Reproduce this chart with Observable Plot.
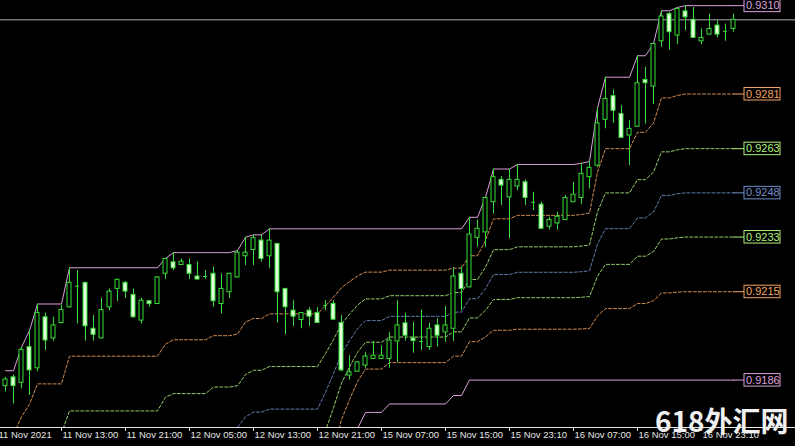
<!DOCTYPE html>
<html>
<head>
<meta charset="utf-8">
<script src="https://cdn.jsdelivr.net/npm/d3@7"></script>
<script src="https://cdn.jsdelivr.net/npm/@observablehq/plot@0.6"></script>
<style>
  html, body { margin: 0; padding: 0; background: #000; }
  #chart { width: 795px; height: 446px; overflow: hidden; }
</style>
</head>
<body>
<div id="chart"></div>
<script>
// Hourly candles, 11–16 Nov 2021
const open = [
  0.91840, 0.91869, 0.91851, 0.91969, 0.91899, 0.92068, 0.91998, 0.92049, 0.92101, 0.92171,
  0.92182, 0.92030, 0.91998, 0.92101, 0.92162, 0.92182, 0.92142, 0.92057, 0.92121, 0.92112,
  0.92212, 0.92250, 0.92241, 0.92241, 0.92203, 0.92203, 0.92212, 0.92112, 0.92151, 0.92200,
  0.92270, 0.92291, 0.92322, 0.92270, 0.92311, 0.92162, 0.92090, 0.92059, 0.92090, 0.92082,
  0.92107, 0.92112, 0.92049, 0.91875, 0.91888, 0.91908, 0.91930, 0.91930, 0.91930, 0.91988,
  0.92048, 0.91998, 0.91988, 0.91969, 0.92041, 0.92018, 0.92030, 0.92212, 0.92167, 0.92331,
  0.92349, 0.92449, 0.92523, 0.92465, 0.92501, 0.92515, 0.92449, 0.92441, 0.92368, 0.92379,
  0.92390, 0.92449, 0.92463, 0.92532, 0.92570, 0.92722, 0.92800, 0.92741, 0.92670, 0.92699,
  0.92854, 0.92832, 0.92982, 0.93072, 0.93001, 0.93081, 0.93053, 0.92982, 0.93004, 0.93034,
  0.93015, 0.93023
];
const high = [
  0.91869, 0.91877, 0.91969, 0.92024, 0.92112, 0.92082, 0.92068, 0.92108, 0.92232, 0.92223,
  0.92184, 0.92074, 0.92131, 0.92162, 0.92195, 0.92186, 0.92162, 0.92131, 0.92123, 0.92203,
  0.92263, 0.92282, 0.92261, 0.92261, 0.92252, 0.92223, 0.92234, 0.92212, 0.92214, 0.92289,
  0.92333, 0.92341, 0.92341, 0.92361, 0.92312, 0.92163, 0.92123, 0.92083, 0.92100, 0.92100,
  0.92123, 0.92123, 0.92074, 0.91941, 0.91921, 0.91952, 0.91988, 0.91974, 0.92018, 0.92123,
  0.92081, 0.92051, 0.92092, 0.92048, 0.92063, 0.92103, 0.92232, 0.92234, 0.92399, 0.92390,
  0.92465, 0.92559, 0.92534, 0.92558, 0.92574, 0.92523, 0.92482, 0.92449, 0.92399, 0.92416,
  0.92471, 0.92515, 0.92578, 0.92584, 0.92761, 0.92863, 0.92821, 0.92769, 0.92719, 0.92934,
  0.92896, 0.92974, 0.93083, 0.93078, 0.93094, 0.93100, 0.93094, 0.93023, 0.93072, 0.93050,
  0.93039, 0.93072
];
const low = [
  0.91820, 0.91781, 0.91831, 0.91809, 0.91888, 0.91958, 0.91989, 0.92046, 0.92098, 0.92046,
  0.91989, 0.91989, 0.91996, 0.92090, 0.92120, 0.92131, 0.92065, 0.92046, 0.92101, 0.92110,
  0.92193, 0.92223, 0.92240, 0.92193, 0.92191, 0.92193, 0.92101, 0.92079, 0.92131, 0.92198,
  0.92239, 0.92239, 0.92250, 0.92230, 0.92049, 0.92010, 0.92038, 0.92030, 0.92038, 0.92048,
  0.92090, 0.92058, 0.91888, 0.91860, 0.91886, 0.91899, 0.91929, 0.91928, 0.91899, 0.91919,
  0.91989, 0.91949, 0.91958, 0.91958, 0.91969, 0.91985, 0.91988, 0.92090, 0.92166, 0.92300,
  0.92300, 0.92410, 0.92438, 0.92328, 0.92487, 0.92438, 0.92421, 0.92360, 0.92357, 0.92357,
  0.92388, 0.92448, 0.92441, 0.92493, 0.92563, 0.92692, 0.92710, 0.92661, 0.92570, 0.92698,
  0.92708, 0.92772, 0.92962, 0.92953, 0.92971, 0.93017, 0.92992, 0.92971, 0.93002, 0.92993,
  0.92982, 0.93012
];
const close = [
  0.91862, 0.91840, 0.91960, 0.91892, 0.92082, 0.91991, 0.92041, 0.92092, 0.92182, 0.92171,
  0.92038, 0.92010, 0.92092, 0.92153, 0.92192, 0.92153, 0.92068, 0.92123, 0.92112, 0.92200,
  0.92261, 0.92230, 0.92252, 0.92212, 0.92193, 0.92203, 0.92121, 0.92162, 0.92212, 0.92282,
  0.92282, 0.92330, 0.92261, 0.92322, 0.92151, 0.92101, 0.92070, 0.92082, 0.92070, 0.92049,
  0.92107, 0.92060, 0.91892, 0.91886, 0.91919, 0.91938, 0.91941, 0.91941, 0.91991, 0.92041,
  0.92007, 0.91989, 0.91988, 0.92030, 0.92007, 0.92041, 0.92203, 0.92162, 0.92342, 0.92361,
  0.92463, 0.92532, 0.92504, 0.92523, 0.92523, 0.92463, 0.92449, 0.92361, 0.92390, 0.92401,
  0.92463, 0.92474, 0.92543, 0.92563, 0.92710, 0.92791, 0.92752, 0.92662, 0.92692, 0.92843,
  0.92843, 0.92973, 0.93064, 0.93012, 0.93089, 0.93061, 0.92993, 0.92993, 0.93023, 0.93004,
  0.93015, 0.93053
];

// Channel high / low of the rolling window, per bar
const channelTop = [
  0.91891, 0.91891, 0.91969, 0.92024, 0.92112, 0.92112, 0.92112, 0.92112, 0.92232, 0.92232,
  0.92232, 0.92232, 0.92232, 0.92232, 0.92232, 0.92232, 0.92232, 0.92232, 0.92232, 0.92232,
  0.92263, 0.92282, 0.92282, 0.92282, 0.92282, 0.92282, 0.92282, 0.92282, 0.92282, 0.92289,
  0.92333, 0.92341, 0.92341, 0.92361, 0.92361, 0.92361, 0.92361, 0.92361, 0.92361, 0.92361,
  0.92361, 0.92361, 0.92361, 0.92361, 0.92361, 0.92361, 0.92361, 0.92361, 0.92361, 0.92361,
  0.92361, 0.92361, 0.92361, 0.92361, 0.92361, 0.92361, 0.92361, 0.92361, 0.92399, 0.92399,
  0.92465, 0.92559, 0.92559, 0.92559, 0.92574, 0.92574, 0.92574, 0.92574, 0.92574, 0.92574,
  0.92574, 0.92574, 0.92578, 0.92584, 0.92761, 0.92863, 0.92863, 0.92863, 0.92863, 0.92934,
  0.92934, 0.92974, 0.93083, 0.93083, 0.93094, 0.93100, 0.93100, 0.93100, 0.93100, 0.93100,
  0.93100, 0.93100
];
const channelBottom = [
  0.90991, 0.90991, 0.90991, 0.90991, 0.90991, 0.90991, 0.90991, 0.90991, 0.90991, 0.90991,
  0.90991, 0.90991, 0.90991, 0.90991, 0.90991, 0.90991, 0.90991, 0.90991, 0.90991, 0.90991,
  0.91060, 0.91060, 0.91060, 0.91060, 0.91060, 0.91060, 0.91117, 0.91117, 0.91117, 0.91117,
  0.91143, 0.91167, 0.91167, 0.91167, 0.91167, 0.91167, 0.91167, 0.91167, 0.91167, 0.91167,
  0.91279, 0.91402, 0.91534, 0.91620, 0.91699, 0.91753, 0.91753, 0.91753, 0.91781, 0.91781,
  0.91781, 0.91781, 0.91781, 0.91781, 0.91781, 0.91781, 0.91809, 0.91809, 0.91860, 0.91860,
  0.91860, 0.91860, 0.91860, 0.91860, 0.91860, 0.91860, 0.91860, 0.91860, 0.91860, 0.91860,
  0.91860, 0.91860, 0.91860, 0.91860, 0.91860, 0.91860, 0.91860, 0.91860, 0.91860, 0.91860,
  0.91860, 0.91860, 0.91860, 0.91860, 0.91860, 0.91860, 0.91860, 0.91860, 0.91860, 0.91860,
  0.91860, 0.91860
];

// Retracement ratios, measured down from the channel high
const fibRatios = [0.236, 0.382, 0.5, 0.618, 0.764];

// Time axis: bar index and its label
const tickIndex = [-1, 7, 15, 23, 31, 39, 47, 55, 63, 71, 79, 87];
const tickLabels = [
  "11 Nov 2021", "11 Nov 13:00", "11 Nov 21:00", "12 Nov 05:00", "12 Nov 13:00", "12 Nov 21:00",
  "15 Nov 07:00", "15 Nov 15:00", "15 Nov 23:10", "16 Nov 07:00", "16 Nov 15:00", "16 Nov 23:10"
];

const watermark = "618外汇网";

// Colours
const candleColor = "#36dc36";
const bearFill = "#e4ffdc";
const plum = "#dda0dd";
const orange = "#f4a460";
const lightGreen = "#adf27c";
const steel = "#7090cc";
const fibColors = [orange, lightGreen, steel, lightGreen, orange];

const bars = open.map((o, i) => ({
  i, open: o, high: high[i], low: low[i], close: close[i],
  top: channelTop[i], bottom: channelBottom[i]
}));
const last = bars.length - 1;
const lastBar = bars[last];

const bull = bars.filter(d => d.close > d.open);
const bear = bars.filter(d => d.close < d.open);
const doji = bars.filter(d => d.close === d.open);

const levelAt = (d, r) => d.top - r * (d.top - d.bottom);

// Levels at the latest bar, with their marker colours
const lastLevels = [
  {value: lastBar.top, color: plum},
  ...fibRatios.map((r, j) => ({value: levelAt(lastBar, r), color: fibColors[j]})),
  {value: lastBar.bottom, color: plum}
];

const ticks = tickIndex.map((k, j) => ({k, label: tickLabels[j]}));

const marks = [];

// bid line at the latest close
marks.push(Plot.ruleY([lastBar.close], {stroke: "#a8a8b2", strokeWidth: 1}));

// dotted retracement lines
fibRatios.forEach((r, j) => {
  marks.push(Plot.line(bars, {
    x: "i", y: d => levelAt(d, r),
    stroke: fibColors[j], strokeWidth: 1, strokeOpacity: 0.85,
    strokeDasharray: "3,2", clip: true
  }));
});

// channel high and low
marks.push(Plot.line(bars, {x: "i", y: "top", stroke: plum, strokeWidth: 1, clip: true}));
marks.push(Plot.line(bars, {x: "i", y: "bottom", stroke: plum, strokeWidth: 1, clip: true}));

// candles: wicks, then bodies
marks.push(Plot.ruleX(bars, {x: "i", y1: "low", y2: "high", stroke: candleColor, strokeWidth: 1}));
marks.push(Plot.rect(bull, {
  x1: d => d.i - 0.25, x2: d => d.i + 0.25, y1: "open", y2: "close",
  fill: "black", stroke: candleColor, strokeWidth: 1
}));
marks.push(Plot.rect(bear, {
  x1: d => d.i - 0.25, x2: d => d.i + 0.25, y1: "open", y2: "close",
  fill: bearFill, stroke: candleColor, strokeWidth: 1
}));
marks.push(Plot.ruleY(doji, {
  y: "open", x1: d => d.i - 0.25, x2: d => d.i + 0.25, stroke: candleColor, strokeWidth: 1
}));

// price markers on the right
lastLevels.forEach(l => {
  marks.push(Plot.ruleY([l], {
    y: "value", x1: () => last, x2: () => last, insetRight: -11,
    stroke: l.color, strokeWidth: 1
  }));
  marks.push(Plot.rect([l], {
    x1: () => last, x2: () => last, y1: "value", y2: "value",
    insetLeft: 11, insetRight: -47, insetTop: -6, insetBottom: -6.5,
    fill: "black", stroke: l.color, strokeWidth: 1
  }));
  marks.push(Plot.text([l], {
    x: () => last, y: "value", text: d => d.value.toFixed(4),
    dx: 12.5, textAnchor: "start", fill: l.color,
    fontSize: 11, fontFamily: "Liberation Sans, Arial, sans-serif"
  }));
});

// time labels
marks.push(Plot.text(ticks, {
  x: "k", text: "label", frameAnchor: "bottom", dy: 10, dx: 1,
  textAnchor: "start", fill: "#e6e6e6", fontSize: 9.5,
  fontFamily: "Liberation Sans, Arial, sans-serif"
}));

// site mark, drawn over the time labels
marks.push(Plot.text([watermark], {
  text: d => d, frameAnchor: "bottom-right", dx: -7, dy: 4,
  textAnchor: "end", fill: "#f0f0f0", fontSize: 28, fontWeight: "bold",
  fontFamily: "'Noto Sans CJK SC', sans-serif"
}));

const chart = Plot.plot({
  width: 795,
  height: 446,
  marginTop: 0,
  marginRight: 0,
  marginBottom: 19,
  marginLeft: 0,
  style: {background: "black", color: "#e6e6e6"},
  x: {
    domain: [-0.625, 98.75],
    ticks: tickIndex.filter(k => k >= 0),
    tickFormat: () => "",
    tickSize: 4,
    line: true
  },
  y: {domain: [0.91703, 0.93117], axis: null},
  marks
});

document.getElementById("chart").appendChild(chart);
</script>
</body>
</html>
